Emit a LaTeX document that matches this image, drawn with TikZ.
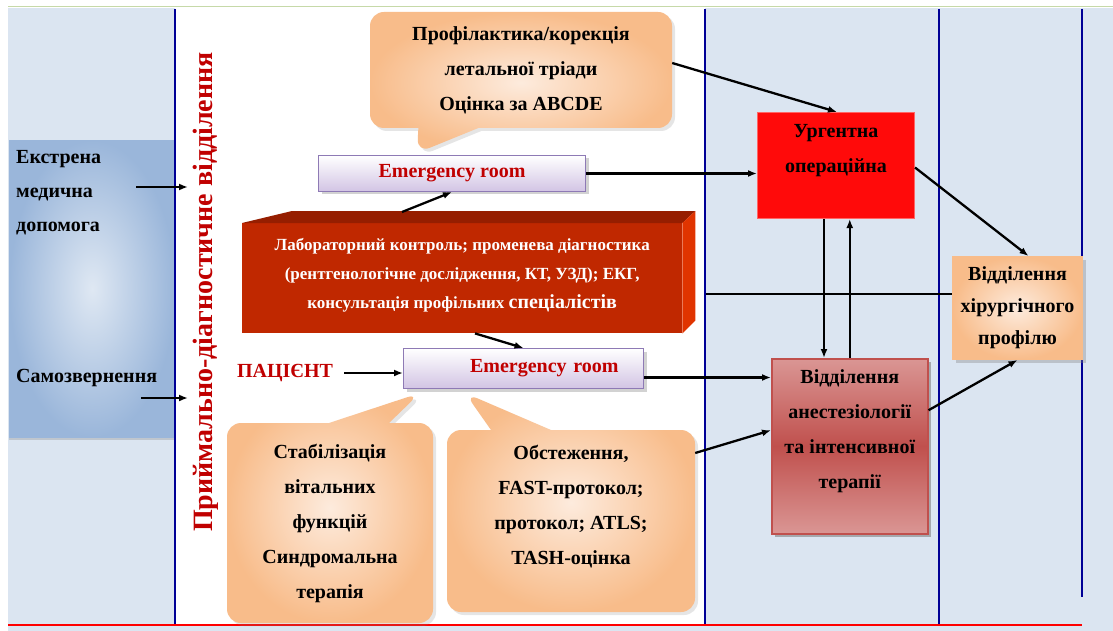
\documentclass[tikz,border=0pt]{standalone}
\usepackage{fontspec}
\setmainfont{Liberation Serif}
\usetikzlibrary{positioning,shapes.callouts,shadows,arrows.meta}

\definecolor{panelblue}{HTML}{DBE5F1}
\definecolor{navyline}{HTML}{000096}
\definecolor{topgreen}{HTML}{C6D9A8}
\definecolor{titlered}{HTML}{C00000}
\definecolor{orlight}{HTML}{FDEBDD}
\definecolor{ordark}{HTML}{F8BC8A}
\definecolor{lavlight}{HTML}{D2C4E4}
\definecolor{lavdark}{HTML}{8E7AB5}
\definecolor{labfront}{HTML}{C02800}
\definecolor{labtop}{HTML}{961E00}
\definecolor{labside}{HTML}{E03400}
\definecolor{urgred}{HTML}{FF0A0A}
\definecolor{aitlight}{HTML}{DA9694}
\definecolor{aitmid}{HTML}{C0504D}
\definecolor{arrlight}{HTML}{DFE8F3}
\definecolor{arrdark}{HTML}{9AB6DA}

\begin{document}
\begin{tikzpicture}[
  x=1pt,y=-1pt,>={Latex[length=9pt,width=7pt]},
  arr/.style={->,line width=2.3pt},
  plain/.style={line width=2.3pt},
  wall/.style={draw=navyline,line width=1.9pt},
  bigtxt/.style={font=\bfseries\fontsize{20}{34}\selectfont,inner sep=2pt},
  bubble/.style={rectangle callout,rounded corners=14pt,inner color=orlight,outer color=ordark,
    drop shadow={opacity=0.2,shadow xshift=3pt,shadow yshift=-3pt},
    align=center,font=\bfseries\fontsize{20}{35}\selectfont,callout pointer width=60pt},
  erbox/.style={anchor=north west,draw=lavdark,line width=1pt,top color=white,bottom color=lavlight,
    drop shadow={opacity=0.35,shadow xshift=3pt,shadow yshift=-3pt},
    text=titlered,font=\bfseries\fontsize{20}{24}\selectfont}
]
  \tikzstyle{deptbox}=[anchor=north west,draw=aitmid,line width=1.5pt]

  \useasboundingbox (0,0) rectangle (1113,631);
  \fill[white] (0,0) rectangle (1113,631);
  \draw[topgreen,line width=1pt] (8,7) -- (1113,7);
  \fill[panelblue] (8,8) rectangle (1113,631);
  \fill[white] (175,8) rectangle (705,625);

  % arrival panel on the left
  \node[anchor=north west,inner color=arrlight,outer color=arrdark,minimum width=166,minimum height=297,
    drop shadow={opacity=0.3,shadow xshift=0pt,shadow yshift=-3pt}] (arrival) at (9,140) {};

  % walls between the departments
  \foreach \wx/\wy in {175/625,705/625,939/625,1082/597}
    \draw[wall] (\wx,9) -- (\wx,\wy);
  \draw[red,line width=1.8pt] (8,625) -- (1082,625);

  % Nodes
  \node[bigtxt,align=left,anchor=west] (emg) at (14,193) {Екстрена\\медична\\допомога};
  \node[bigtxt,anchor=west] (self) at (14,378) {Самозвернення};
  \coordinate (emgfrom) at (136,187);
  \coordinate (emgto) at (188,187);
  \coordinate (selffrom) at (141,398);
  \coordinate (selfto) at (188,398);

  \node[rotate=90,text=titlered,font=\bfseries\fontsize{28}{30}\selectfont] (pdo) at (206,292)
    {Приймально-діагностичне відділення};

  \node[bubble,minimum width=302,minimum height=116,callout absolute pointer={(417,153)}] (prof) at (521,70)
    {Профілактика/корекція\\летальної тріади\\Оцінка за ABCDE};

  \node[erbox,minimum width=267,minimum height=36] (er1) at (318,155) {Emergency room};

  \node[anchor=north west,fill=labfront,minimum width=440,minimum height=110,align=center,text=white,
    font=\bfseries\fontsize{17}{29}\selectfont] (lab) at (242,223)
    {Лабораторний контроль; променева діагностика\\(рентгенологічне дослідження, КТ, УЗД); ЕКГ,\\
     консультація профільних {\fontsize{20}{29}\selectfont спеціалістів}\\[-19pt]};
  \fill[labtop] (lab.north west) -- ([shift={(50,-12)}]lab.north west) -- ([shift={(13,-12)}]lab.north east)
    -- (lab.north east) -- cycle;
  \fill[labside] (lab.north east) -- ([shift={(13,-12)}]lab.north east) -- ([shift={(13,-13)}]lab.south east)
    -- (lab.south east) -- cycle;

  \node[text=titlered,font=\bfseries\fontsize{20}{24}\selectfont] (pat) at (285,373) {ПАЦІЄНТ};

  \node[erbox,minimum width=240,minimum height=40,text width=190pt,inner xsep=25pt,align=right] (er2) at (403,348)
    {Emergency room};

  \node[bubble,minimum width=206,minimum height=200,callout absolute pointer={(420,393)}] (stab) at (330,523)
    {Стабілізація\\вітальних\\функцій\\Синдромальна\\терапія};
  \node[bubble,minimum width=248,minimum height=182,callout absolute pointer={(465,393)}] (obst) at (571,521)
    {Обстеження,\\FAST-протокол;\\протокол; ATLS;\\TASH-оцінка\\[-2pt]\mbox{}};

  \node[anchor=north west,fill=urgred,draw=red!60!white,line width=1pt,minimum width=157,minimum height=106] (urg)
    at (757,112) {};
  \node[bigtxt,align=center,font=\bfseries\fontsize{20}{35}\selectfont,below=10pt of urg.north] (urgtxt)
    {Ургентна\\операційна};

  \node[deptbox,top color=aitlight,bottom color=aitlight,middle color=aitmid,minimum width=156,minimum height=175,
    drop shadow={opacity=0.6,shadow xshift=3pt,shadow yshift=-3pt}] (ait) at (771,358) {};
  \node[bigtxt,align=center,font=\bfseries\fontsize{20}{35}\selectfont,below=9pt of ait.north] (aittxt)
    {Відділення\\анестезіології\\та інтенсивної\\терапії};

  \node[anchor=north west,draw=ordark,line width=1pt,inner color=orlight,outer color=ordark,
    minimum width=130,minimum height=103,align=center,font=\bfseries\fontsize{20}{32}\selectfont,
    drop shadow={opacity=0.35,shadow xshift=3pt,shadow yshift=-3pt}] (hir) at (952,256)
    {Відділення\\хірургічного\\профілю};
  \coordinate (hlstart) at (706,294);

  % Edges
  \draw[arr] (emgfrom) -- (emgto);
  \draw[arr] (selffrom) -- (selfto);
  \draw[arr] ([xshift=8pt]pat.east) -- (pat.east -| er2.west);
  \draw[arr] ([shift={(160,-11)}]lab.north west) -- (er1.south);
  \draw[arr] ([shift={(233,0)}]lab.south west) -- (er2.north);
  \draw[arr] (er1.east) -- (er1.east -| urg.west);
  \draw[arr] ([yshift=-9pt]er2.east) -- ([yshift=-9pt]er2.east -| ait.west);
  \draw[arr] ([yshift=7pt]prof.east) -- ([xshift=1pt]urg.north);
  \draw[arr] ([xshift=-12pt]urg.south) -- ([xshift=-12pt]urg.south |- ait.north);
  \draw[arr] (ait.north) -- (ait.north |- urg.south);
  \draw[arr] ([yshift=-2pt]urg.east) -- ([xshift=11pt]hir.north);
  \draw[plain] (hlstart) -- (hlstart -| hir.west);
  \draw[arr] ([yshift=36pt]ait.east) -- (hir.south);
  \draw[arr] ([yshift=68pt]obst.east) -- ([yshift=16pt]ait.west);
\end{tikzpicture}
\end{document}
